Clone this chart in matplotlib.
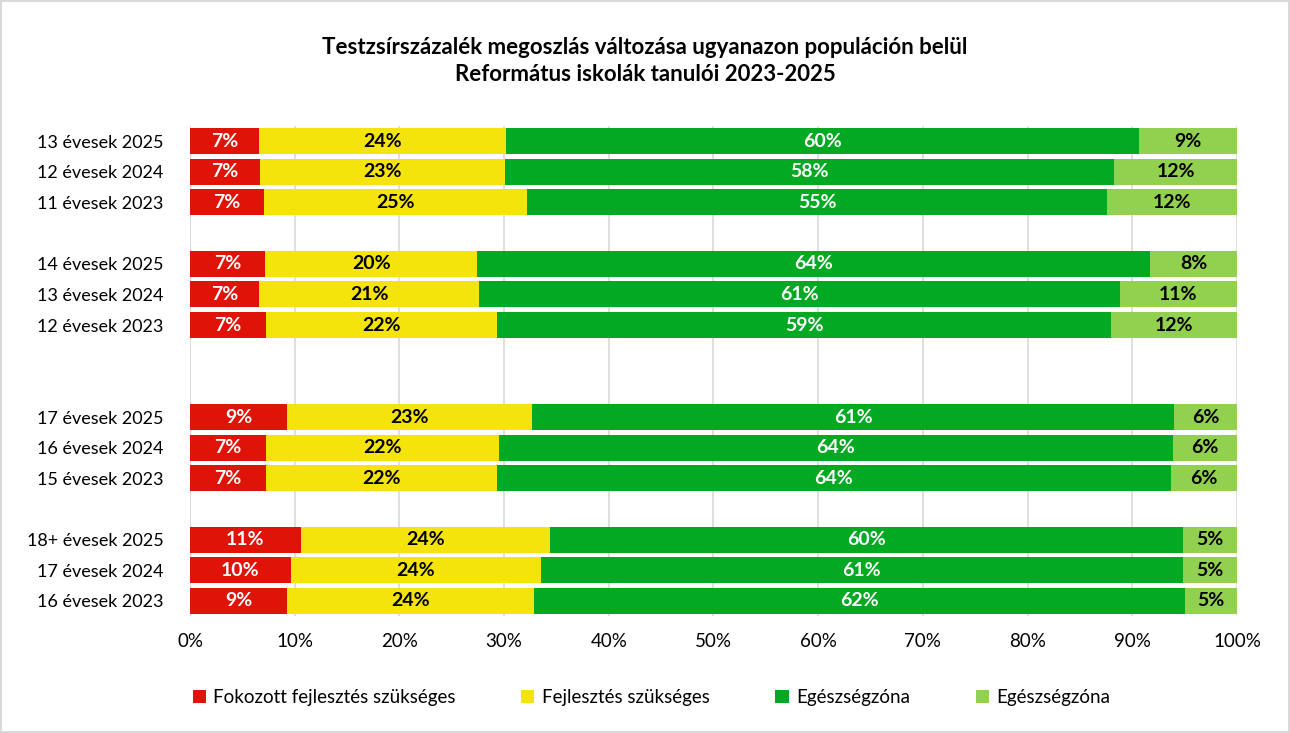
import numpy as np
import matplotlib.pyplot as plt

plt.rcParams['font.family'] = ['Lato', 'DejaVu Sans']

labels = ['13 évesek 2025', '12 évesek 2024', '11 évesek 2023',
          '14 évesek 2025', '13 évesek 2024', '12 évesek 2023',
          '17 évesek 2025', '16 évesek 2024', '15 évesek 2023',
          '18+ évesek 2025', '17 évesek 2024', '16 évesek 2023']
group_sizes = [3, 3, 3, 3]
gaps = [1, 2, 1]

red = [6.6, 6.7, 7.1, 7.2, 6.6, 7.3, 9.3, 7.3, 7.3, 10.6, 9.6, 9.3]
yellow = [23.6, 23.4, 25.1, 20.2, 21.0, 22.0, 23.4, 22.2, 22.0, 23.8, 23.9, 23.6]
green = [60.4, 58.2, 55.4, 64.3, 61.2, 58.7, 61.3, 64.4, 64.4, 60.4, 61.3, 62.1]
light = [9.4, 11.7, 12.4, 8.3, 11.2, 12.0, 6.0, 6.1, 6.3, 5.2, 5.2, 5.0]

series = [
    ('Fokozott fejlesztés szükséges', red, '#DF1307', 'white'),
    ('Fejlesztés szükséges', yellow, '#F5E30C', 'black'),
    ('Egészségzóna', green, '#03A823', 'white'),
    ('Egészségzóna', light, '#92D050', 'black'),
]

# row positions with gaps between groups
pos = []
y = 0
for g, n in enumerate(group_sizes):
    for i in range(n):
        pos.append(y)
        y += 1
    if g < len(gaps):
        y += gaps[g]
pos = np.array(pos)

fig = plt.figure(figsize=(12.9, 7.33), dpi=100)
fig.patch.set_edgecolor('#D9D9D9')
fig.patch.set_linewidth(1.5)
ax = fig.add_axes([0.1473, 0.1592, 0.8116, 0.6693])

left = np.zeros(len(labels))
for name, vals, col, tcol in series:
    vals = np.array(vals)
    bars = ax.barh(pos, vals, left=left, height=0.84, color=col, label=name, zorder=3)
    ax.bar_label(bars, labels=['%.0f%%' % v for v in vals], label_type='center',
                 color=tcol, fontsize=14, fontweight='bold')
    left += vals

ax.set_xlim(0, 100)
ax.set_ylim(pos.max() + 0.5, -0.5)
ax.set_yticks(pos)
ax.set_yticklabels(labels, fontsize=13)
ax.set_xticks(np.arange(0, 101, 10))
ax.set_xticklabels(['%d%%' % v for v in range(0, 101, 10)], fontsize=13.5)
ax.tick_params(length=0)
ax.tick_params(axis='x', pad=12)
ax.tick_params(axis='y', pad=19)
ax.grid(axis='x', color='#D9D9D9', linewidth=1.2, zorder=0)
for s in ax.spines.values():
    s.set_visible(False)
ax.axvline(0, color='#D9D9D9', linewidth=1.2, zorder=1)

fig.suptitle('Testzsírszázalék megoszlás változása ugyanazon populáción belül\n'
             'Református iskolák tanulói 2023-2025',
             y=0.95, fontsize=16, fontweight='bold', linespacing=1.4)

fig.legend(loc='center', bbox_to_anchor=(0.505, 0.048), ncol=4, frameon=False,
           fontsize=13.5, handlelength=0.7, handleheight=0.7, columnspacing=3.5,
           handletextpad=0.4)

fig.savefig('out.png', dpi=100)
